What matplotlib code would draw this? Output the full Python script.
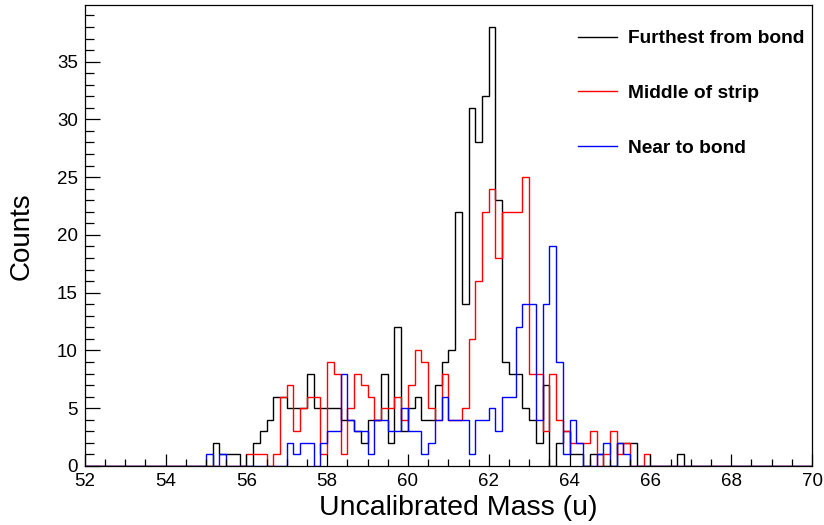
import numpy as np
import matplotlib
matplotlib.use("Agg")
import matplotlib.pyplot as plt
from matplotlib.ticker import MultipleLocator
from matplotlib.lines import Line2D

plt.rcParams['font.family'] = ['Liberation Sans', 'DejaVu Sans']

# Histogram binning: 108 bins of 1/6 u between 52 and 70
x_lo, x_hi, n_bins = 52.0, 70.0, 108
first_bin = 18  # bins before this one are empty

furthest = [0, 2, 1, 1, 1, 0, 0, 2, 3, 4, 6, 6, 5, 5, 5, 8, 5, 5, 5, 5,
            4, 4, 3, 2, 4, 4, 8, 2, 12, 3, 5, 6, 4, 4, 7, 9, 10, 22, 14, 31,
            28, 32, 38, 23, 9, 8, 8, 5, 4, 2, 7, 0, 2, 3, 1, 1, 0, 1, 1, 0,
            0, 2, 2, 2, 0, 0, 0, 0, 0, 0, 1, 0, 0]
middle = [0, 0, 0, 0, 0, 0, 1, 1, 1, 0, 1, 6, 7, 3, 5, 6, 6, 1, 9, 8,
          1, 5, 8, 7, 6, 4, 5, 5, 6, 4, 7, 10, 9, 5, 4, 8, 4, 4, 5, 11,
          16, 22, 24, 18, 22, 22, 22, 25, 8, 8, 3, 8, 4, 3, 2, 2, 2, 3, 0, 1,
          3, 1, 2, 0, 0, 1, 0, 0, 0, 0, 0, 0, 0]
near = [1, 0, 1, 0, 0, 0, 0, 0, 0, 0, 0, 0, 2, 1, 2, 2, 0, 2, 3, 3,
        8, 4, 3, 3, 1, 4, 4, 3, 3, 5, 3, 3, 1, 2, 4, 6, 4, 4, 4, 1,
        4, 4, 5, 3, 6, 6, 12, 14, 14, 4, 14, 19, 9, 1, 4, 2, 0, 0, 1, 2,
        0, 2, 1, 0, 0, 0, 0, 0, 0, 0, 0, 0, 0]

labels = ["Furthest from bond", "Middle of strip", "Near to bond"]
colors = ["#000000", "#ff0000", "#0000ff"]


def full_counts(vals):
    c = np.zeros(n_bins)
    c[first_bin:first_bin + len(vals)] = vals
    return c


edges = np.linspace(x_lo, x_hi, n_bins + 1)

fig = plt.figure(figsize=(8.24, 5.25), dpi=100)
ax = fig.add_axes([84.7 / 824, 1 - 466 / 525, (812 - 84.7) / 824, (466 - 5) / 525])

for vals, lab, col in zip([furthest, middle, near], labels, colors):
    ax.stairs(full_counts(vals), edges, baseline=0, color=col,
              linewidth=1.0, label=lab)

ymax = 1.05 * max(max(furthest), max(middle), max(near))
ax.set_xlim(x_lo, x_hi)
ax.set_ylim(0, ymax)

ax.xaxis.set_major_locator(MultipleLocator(2))
ax.xaxis.set_minor_locator(MultipleLocator(0.5))
ax.yaxis.set_major_locator(MultipleLocator(5))
ax.yaxis.set_minor_locator(MultipleLocator(1))
ax.tick_params(axis='both', which='both', direction='in', top=False, right=False,
               labelsize=13.5, width=0.9, color='black')
ax.tick_params(axis='x', which='major', length=9, pad=5)
ax.tick_params(axis='x', which='minor', length=5)
ax.tick_params(axis='y', which='major', length=10.5, pad=5)
ax.tick_params(axis='y', which='minor', length=6.5)
for s in ax.spines.values():
    s.set_linewidth(0.9)

ax.text(0.513, -0.091, "Uncalibrated Mass (u)", transform=ax.transAxes,
        ha='center', va='center', fontsize=20.5)
ax.text(-0.0862, 0.499, "Counts", transform=ax.transAxes, rotation=90,
        ha='center', va='center', fontsize=20)

proxies = [Line2D([], [], color=c, linewidth=1.0) for c in colors]
ax.legend(proxies, labels, loc='upper left', bbox_to_anchor=(0.678, 0.946),
          frameon=False, borderpad=0, borderaxespad=0, handlelength=2.05,
          handletextpad=0.55, labelspacing=1.95,
          prop={'size': 13.8, 'weight': 'bold'})

fig.savefig("out.png", dpi=100)
